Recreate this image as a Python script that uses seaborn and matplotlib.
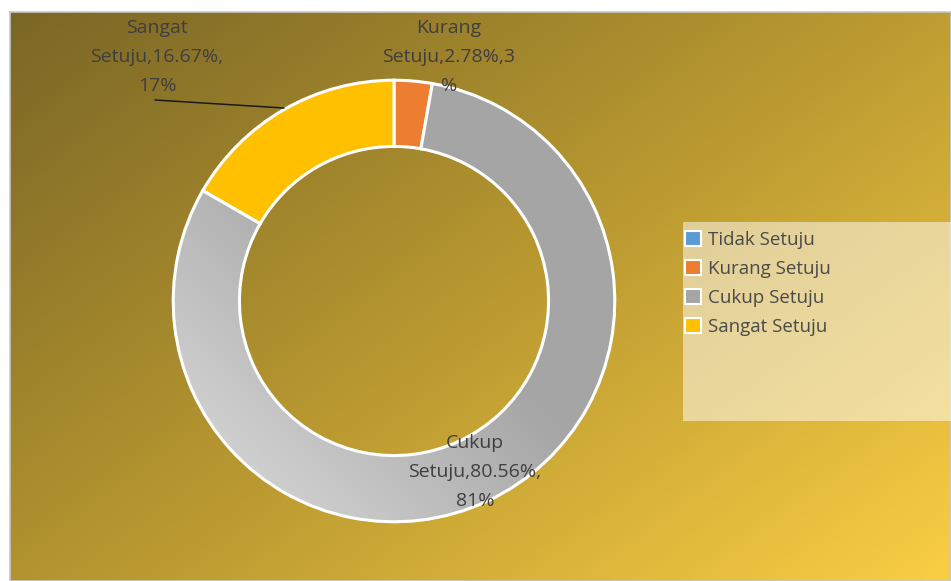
"""
Donut chart: distribusi jawaban responden.
"""
import numpy as np
import matplotlib
matplotlib.use("Agg")
import matplotlib.pyplot as plt
from matplotlib.patches import Patch, Rectangle
import seaborn as sns

# data
categories = ["Tidak Setuju", "Kurang Setuju", "Cukup Setuju", "Sangat Setuju"]
percent = [0.0, 2.78, 80.56, 16.67]
rounded = ["0%", "3%", "81%", "17%"]
colors = ["#5b9bd5", "#ed7d31", "#a5a5a5", "#ffc000"]

sns.set_theme(style="white")
plt.rcParams["font.family"] = ["Open Sans", "DejaVu Sans"]

W, H = 951, 581
fig = plt.figure(figsize=(W / 100, H / 100), dpi=100)
fig.patch.set_facecolor("white")

# gradient background of the chart area
bg = fig.add_axes([10 / W, 0, (W - 10) / W, (H - 12) / H])
xx, yy = np.meshgrid(np.linspace(0, 1, 400), np.linspace(0, 1, 250))
t = np.clip(0.55 * xx + 0.45 * yy, 0, 1)
c0 = np.array([122, 102, 38]) / 255
c1 = np.array([184, 152, 48]) / 255
c2 = np.array([250, 206, 68]) / 255
img = np.where(t[..., None] < 0.5,
               c0 + (c1 - c0) * (t[..., None] / 0.5),
               c1 + (c2 - c1) * ((t[..., None] - 0.5) / 0.5))
bg.imshow(img, aspect="auto", extent=[0, 1, 1, 0])
bg.set_xlim(0, 1)
bg.set_ylim(1, 0)
bg.set_xticks([])
bg.set_yticks([])
for s in bg.spines.values():
    s.set_color("#c8c8c8")
    s.set_linewidth(1.2)

# donut
cx, cy, r = 394, 301, 223
ax = fig.add_axes([(cx - r) / W, (H - cy - r) / H, 2 * r / W, 2 * r / H])
wedges, _ = ax.pie(percent, colors=colors, startangle=90, counterclock=False,
                   radius=1,
                   wedgeprops=dict(width=0.30, edgecolor="white", linewidth=2.2))

# soft shading on the grey slice (lighter towards lower left)
gx, gy = np.meshgrid(np.linspace(-1, 1, 300), np.linspace(-1, 1, 300))
s = np.clip((-(gx) - gy + 0.2) / 1.8, 0, 1)[..., None]
lo = np.array([165, 165, 165]) / 255
hi = np.array([212, 212, 212]) / 255
shade = ax.imshow(lo + (hi - lo) * s, extent=[-1, 1, -1, 1], origin="lower",
                  zorder=wedges[2].get_zorder() + 0.1)
shade.set_clip_path(wedges[2])
wedges[2].set_zorder(wedges[2].get_zorder() + 0.2)
wedges[2].set_facecolor("none")

ax.set_xlim(-1.01, 1.01)
ax.set_ylim(-1.01, 1.01)
ax.set_aspect("equal")
ax.axis("off")

# data labels
lbl_kw = dict(ha="center", va="center", fontsize=14, color="#3f3f3f",
              linespacing=1.8)
fig.text(157 / W, 1 - 57 / H,
         f"Sangat\nSetuju,{percent[3]:.2f}%,\n{rounded[3]}", **lbl_kw)
fig.text(449 / W, 1 - 57 / H,
         f"Kurang\nSetuju,{percent[1]:.2f}%,3\n%", **lbl_kw)
fig.text(475 / W, 1 - 472 / H,
         f"Cukup\nSetuju,{percent[2]:.2f}%,\n{rounded[2]}", **lbl_kw)
fig.add_artist(plt.Line2D([155 / W, 284 / W], [1 - 100 / H, 1 - 108 / H],
                          color="#1a1a1a", linewidth=1.1))

# legend
fig.add_artist(Rectangle((683 / W, 1 - 421 / H), (W - 683) / W, 199 / H,
                         transform=fig.transFigure, facecolor="white",
                         alpha=0.5, edgecolor="none"))
handles = [Patch(facecolor=c, edgecolor="white", linewidth=1.5) for c in colors]
leg = fig.legend(handles, categories, loc="upper left",
                 bbox_to_anchor=(672 / W, 1 - 218 / H), frameon=False,
                 fontsize=13.5, handlelength=0.85, handleheight=0.85,
                 handletextpad=0.35, labelspacing=0.58, borderpad=0.2)
for txt in leg.get_texts():
    txt.set_color("#4a4a4a")

fig.savefig("out.png", dpi=100)
